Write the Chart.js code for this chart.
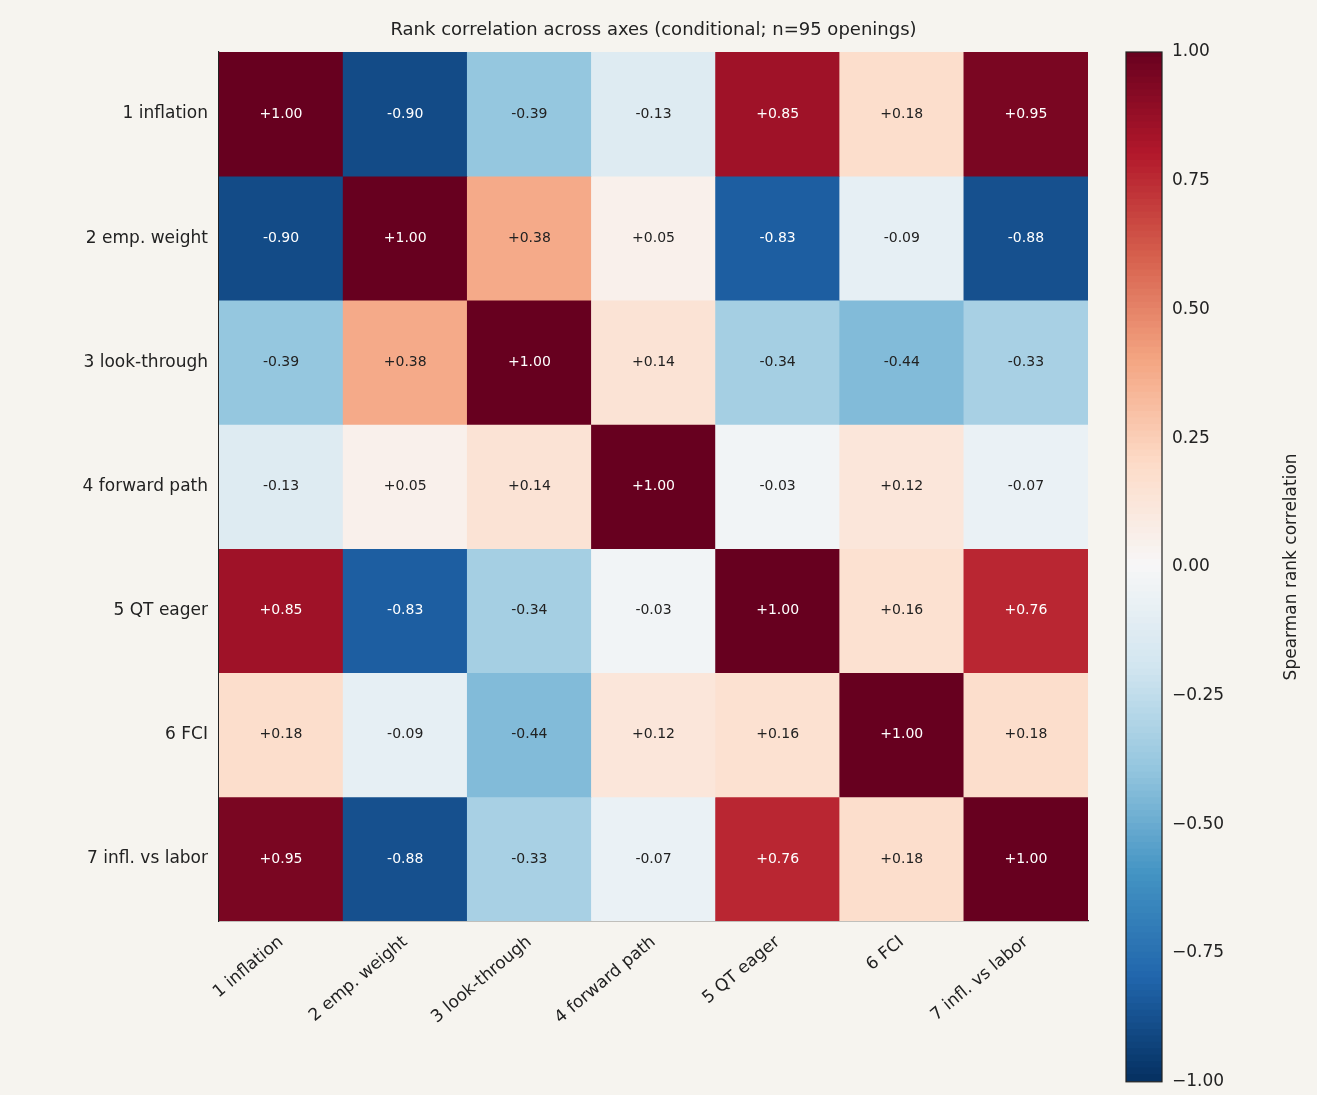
<!DOCTYPE html>
<html><head><meta charset="utf-8">
<script src="https://cdn.jsdelivr.net/npm/chart.js@4"></script>
<style>body{margin:0;background:#f6f4ef;font-family:"DejaVu Sans"}#a{position:absolute;left:0;top:0;width:1100px;height:1095px}#b{position:absolute;left:1100px;top:0;width:217px;height:1095px}</style>
</head><body>
<div id="a"><canvas id="c1"></canvas></div><div id="b"><canvas id="c2"></canvas></div>
<script>
const labels=["1 inflation","2 emp. weight","3 look-through","4 forward path","5 QT eager","6 FCI","7 infl. vs labor"];
const row1=[1,-0.90,-0.39,-0.13,0.85,0.18,0.95];
const row2=[-0.90,1,0.38,0.05,-0.83,-0.09,-0.88];
const row3=[-0.39,0.38,1,0.14,-0.34,-0.44,-0.33];
const row4=[-0.13,0.05,0.14,1,-0.03,0.12,-0.07];
const row5=[0.85,-0.83,-0.34,-0.03,1,0.16,0.76];
const row6=[0.18,-0.09,-0.44,0.12,0.16,1,0.18];
const row7=[0.95,-0.88,-0.33,-0.07,0.76,0.18,1];
const rows=[row1,row2,row3,row4,row5,row6,row7];
const cbTicks=[-1,-0.75,-0.5,-0.25,0,0.25,0.5,0.75,1];
const title="Rank correlation across axes (conditional; n=95 openings)";
const cbLabel="Spearman rank correlation";
const F='"DejaVu Sans"';
const anchors=["#053061","#2166ac","#4393c3","#92c5de","#d1e5f0","#f7f7f7","#fddbc7","#f4a582","#d6604d","#b2182b","#67001f"];
function hx(h){return [1,3,5].map(i=>parseInt(h.substr(i,2),16));}
function cmap(v){let t=(v+1)/2*10;let i=Math.min(9,Math.floor(t));let f=t-i;let a=hx(anchors[i]),b=hx(anchors[i+1]);return `rgb(${a.map((x,k)=>Math.round(x+(b[k]-x)*f)).join(',')})`;}
const fmt=v=>(v>=0?"+":"-")+Math.abs(v).toFixed(2);
Chart.defaults.font.family=F;Chart.defaults.color="#222";
const ds=rows.map((r,i)=>({data:r.map(()=>[i,i+1]),vals:r,backgroundColor:r.map(cmap),borderWidth:0,barPercentage:1,categoryPercentage:1,grouped:false}));
const txt={id:'txt',afterDatasetsDraw(c){const x=c.ctx;x.save();x.font='14px '+F;x.textAlign='center';x.textBaseline='middle';
c.data.datasets.forEach((d,i)=>{c.getDatasetMeta(i).data.forEach((el,j)=>{const v=d.vals[j];x.fillStyle=Math.abs(v)>0.5?'#fff':'#222';const p=el.getCenterPoint();x.fillText(fmt(v),p.x,p.y);});});
x.font='18px '+F;x.fillStyle='#222';x.fillText(title,(c.chartArea.left+c.chartArea.right)/2,30);x.restore();}};
new Chart(document.getElementById('c1'),{type:'bar',data:{labels,datasets:ds},plugins:[txt],
options:{responsive:true,maintainAspectRatio:false,animation:false,layout:{padding:{top:52,right:12,left:0,bottom:0}},
plugins:{legend:{display:false},tooltip:{enabled:false}},
scales:{x:{grid:{display:false,drawTicks:true},border:{color:'#222',width:1.2},ticks:{font:{size:17},maxRotation:40,minRotation:40,color:'#222'},afterFit:s=>{s.height=174}},
y:{type:'linear',min:0,max:7,reverse:true,grid:{display:false},border:{color:'#222',width:1.2},
afterBuildTicks:s=>{s.ticks=labels.map((l,i)=>({value:i+0.5}))},ticks:{font:{size:17},color:'#222',callback:(v)=>labels[Math.floor(v)]},afterFit:s=>{s.width=219}}}}});
// colorbar
const N=160,cbds=[];for(let k=0;k<N;k++){const a=-1+2*k/N,b=-1+2*(k+1)/N;cbds.push({data:[[a,b+0.002]],backgroundColor:cmap((a+b)/2),borderWidth:0,barPercentage:1,categoryPercentage:1,grouped:false});}
const cbp={id:'cbp',afterDraw(c){const x=c.ctx,a=c.chartArea;x.save();x.strokeStyle='#222';x.lineWidth=1.2;x.strokeRect(a.left,a.top,a.right-a.left,a.bottom-a.top);
x.translate(a.right+130,(a.top+a.bottom)/2);x.rotate(-Math.PI/2);x.font='17px '+F;x.fillStyle='#222';x.textAlign='center';x.textBaseline='middle';x.fillText(cbLabel,0,0);x.restore();}};
new Chart(document.getElementById('c2'),{type:'bar',data:{labels:[''],datasets:cbds},plugins:[cbp],
options:{responsive:true,maintainAspectRatio:false,animation:false,layout:{padding:{top:52,left:26,right:0,bottom:0}},
plugins:{legend:{display:false},tooltip:{enabled:false}},
scales:{x:{display:false},y:{position:'right',min:-1,max:1,grid:{display:false,drawTicks:true,tickLength:7,tickColor:'#222'},border:{display:false},
afterBuildTicks:s=>{s.ticks=cbTicks.map(v=>({value:v}))},ticks:{font:{size:17},color:'#222',callback:v=>(v<0?'\u2212':'')+Math.abs(v).toFixed(2)},afterFit:s=>{s.width=155}}}}});
</script></body></html>
